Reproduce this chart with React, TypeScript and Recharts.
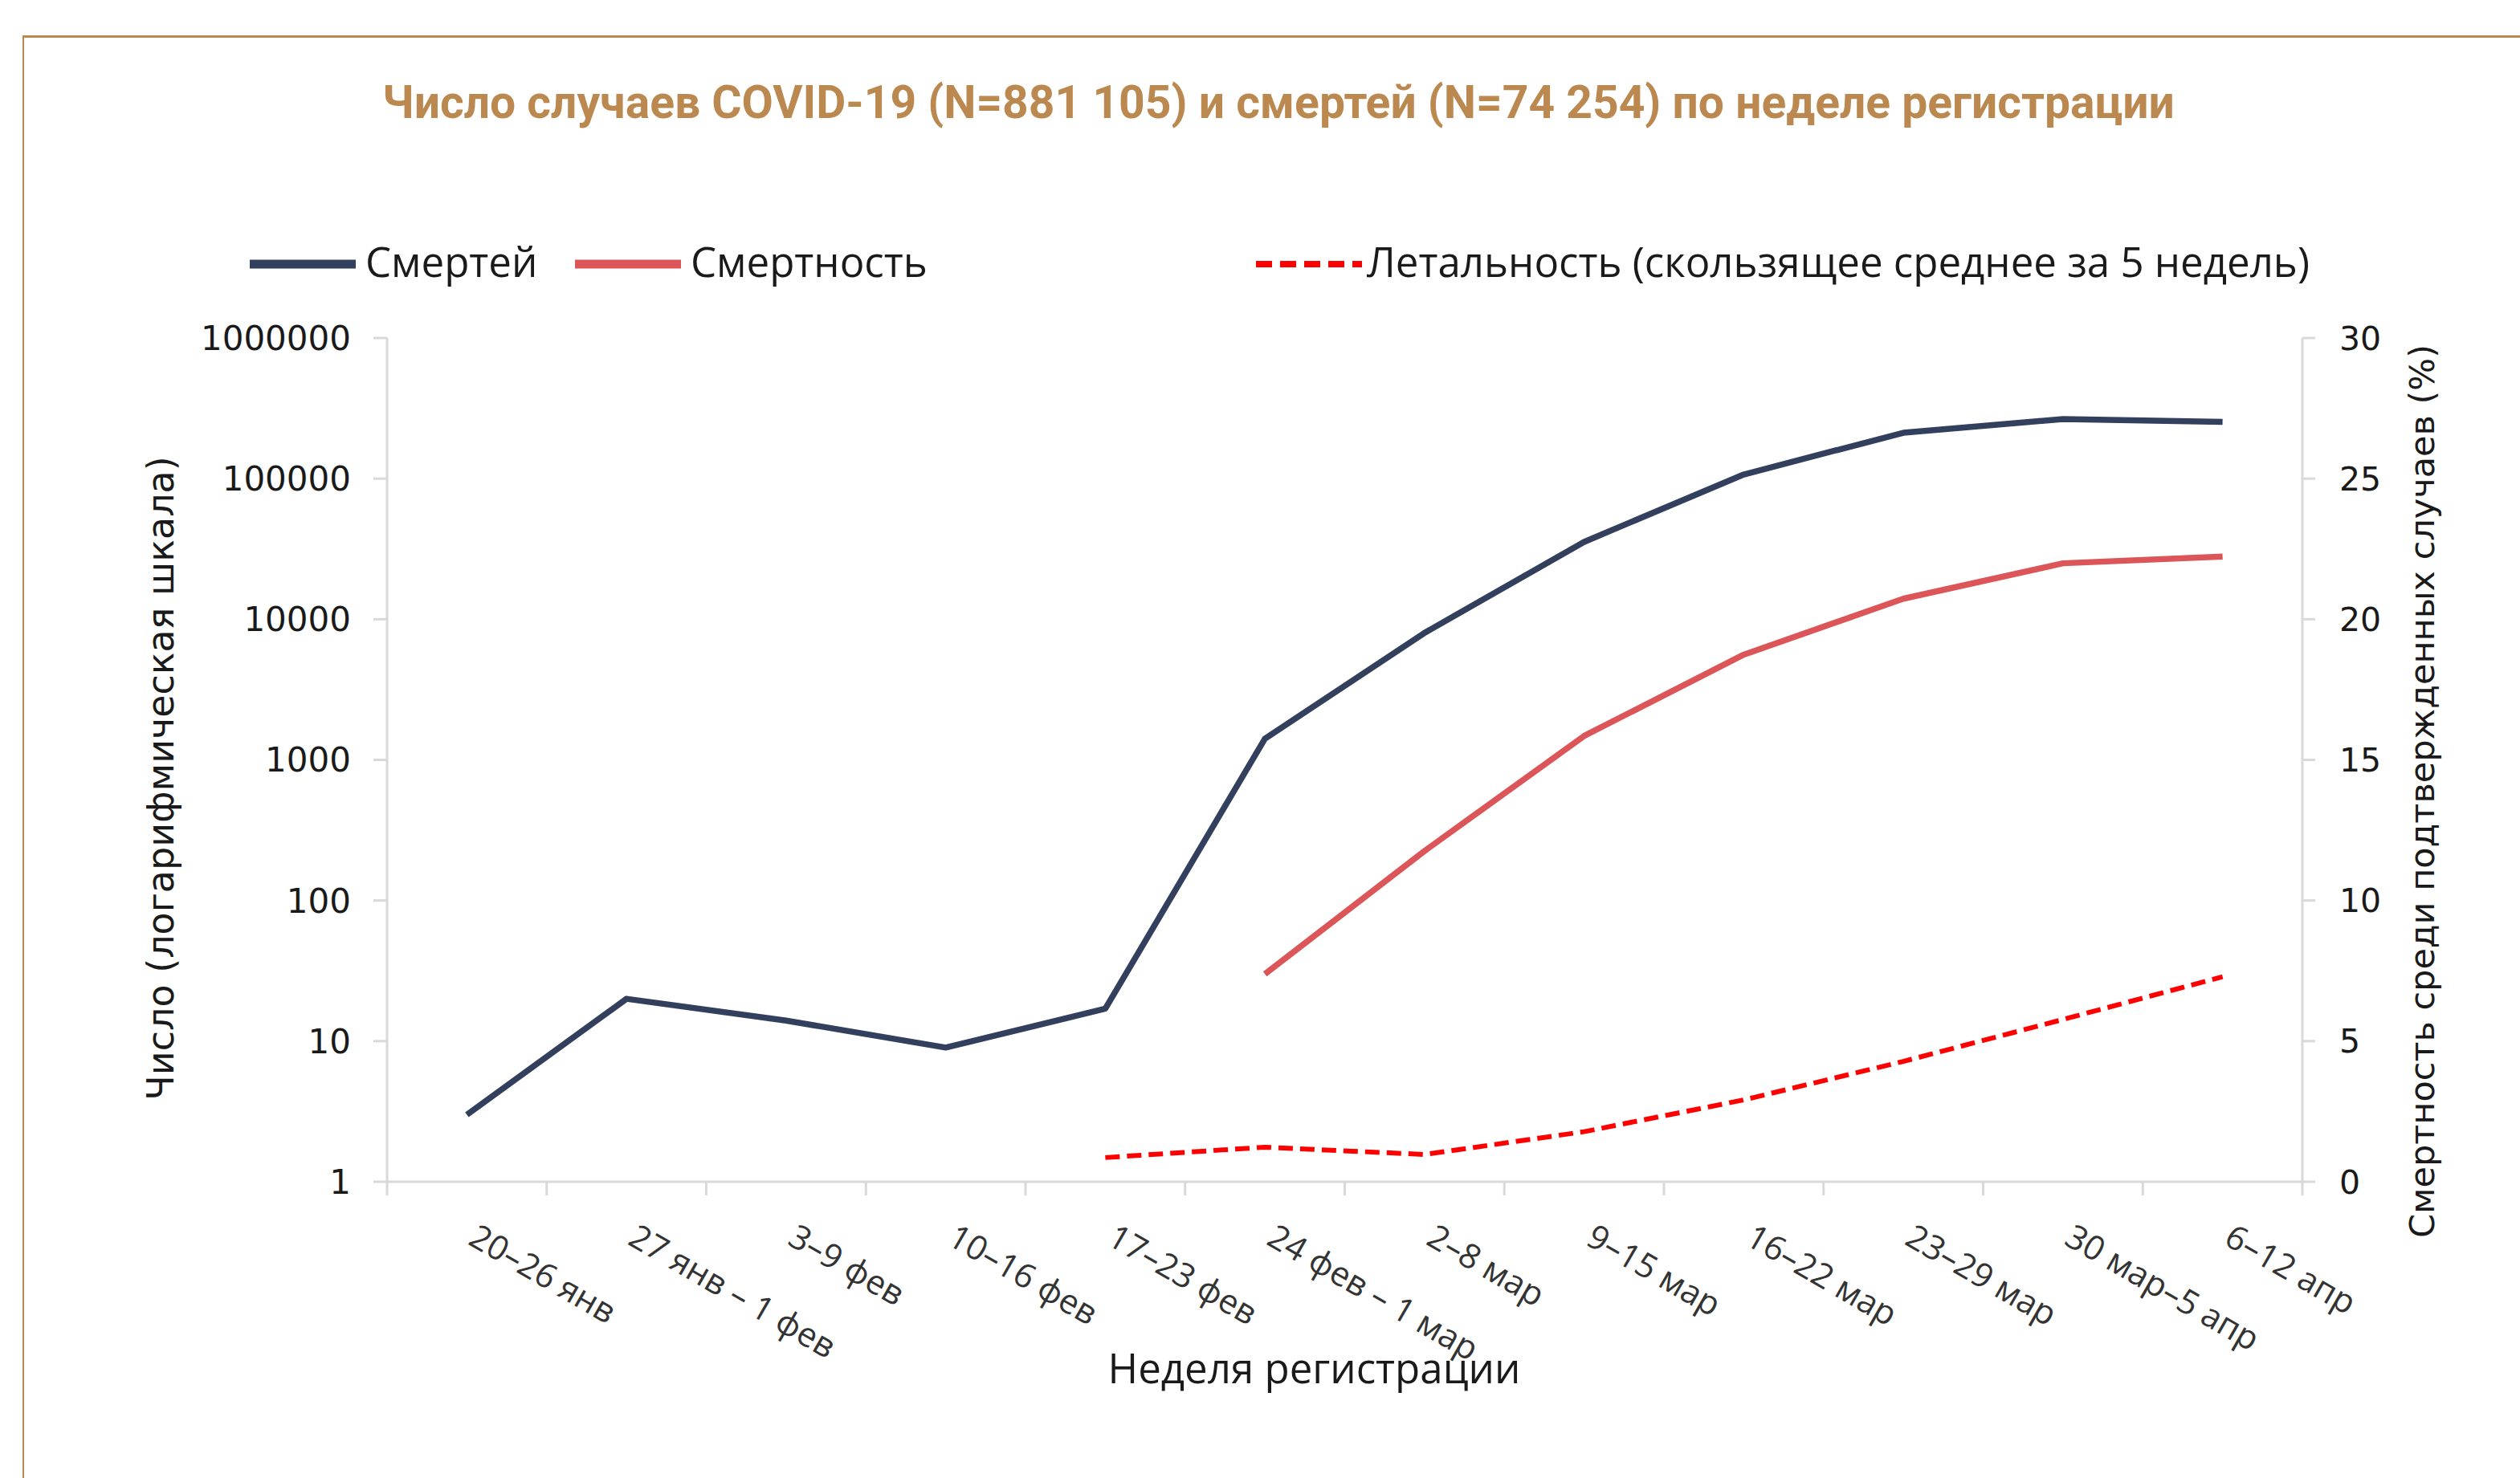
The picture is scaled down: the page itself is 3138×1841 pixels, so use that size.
import React from 'react';
import { LineChart, Line, XAxis, YAxis, Label } from 'recharts';

// ---------- data ----------
const weeks = [
  '20–26 янв', '27 янв – 1 фев', '3–9 фев', '10–16 фев', '17–23 фев', '24 фев – 1 мар',
  '2–8 мар', '9–15 мар', '16–22 мар', '23–29 мар', '30 мар–5 апр', '6–12 апр',
];
const casesSeries = [3, 20, 14, 9, 17, 1416, 8000, 35500, 107000, 212000, 265000, 253000];
const deathsSeries = [null, null, null, null, null, 30, 225, 1480, 5600, 14000, 25000, 27900];
const cfrSeries = [null, null, null, null, 0.86, 1.23, 0.97, 1.78, 2.91, 4.28, 5.77, 7.29];
const leftTicks = [1, 10, 100, 1000, 10000, 100000, 1000000];
const rightTicks = [0, 5, 10, 15, 20, 25, 30];
const seriesNames = ['Смертей', 'Смертность', 'Летальность (скользящее среднее за 5 недель)'];
const titleText = 'Число случаев COVID-19 (N=881 105) и смертей (N=74 254) по неделе регистрации';
const leftAxisTitle = 'Число (логарифмическая шкала)';
const rightAxisTitle = 'Смертность среди подтвержденных случаев (%)';
const xAxisTitle = 'Неделя регистрации';

const data = weeks.map((w, i) => ({
  week: w,
  cases: casesSeries[i],
  deaths: deathsSeries[i],
  cfr: cfrSeries[i],
}));

// ---------- layout / style ----------
const W = 3138;
const H = 1841;
const PLOT_LEFT = 482;
const PLOT_RIGHT = 2867;
const PLOT_TOP = 421;
const PLOT_BOTTOM = 1472;
const BAND = (PLOT_RIGHT - PLOT_LEFT) / weeks.length;

const NAVY = '#323F5D';
const RED = '#DC5558';
const DASH_RED = '#FF0000';
const AXIS_GREY = '#D9D9D9';
const GOLD = '#BB8950';
const NUM_FONT = '"DejaVu Sans", Verdana, sans-serif';
const UI_FONT = '"Open Sans", "Noto Sans", sans-serif';

const XTick = (props: any) => {
  const { x, y, payload, index } = props;
  const lx = x - BAND / 2;
  const ty = y + 77;
  return (
    <g>
      <line x1={lx} x2={lx} y1={y} y2={y + 17} stroke={AXIS_GREY} strokeWidth={3} />
      {index === weeks.length - 1 && (
        <line x1={x + BAND / 2} x2={x + BAND / 2} y1={y} y2={y + 17} stroke={AXIS_GREY} strokeWidth={3} />
      )}
      <text
        x={x}
        y={ty}
        transform={`rotate(30, ${x}, ${ty})`}
        textAnchor="start"
        fontFamily={UI_FONT}
        fontSize={42}
        fill="#333333"
      >
        {payload.value}
      </text>
    </g>
  );
};

const LeftTitle = (props: any) => {
  const vb = props.viewBox || { x: 0, y: PLOT_TOP, width: PLOT_LEFT, height: PLOT_BOTTOM - PLOT_TOP };
  const cx = vb.x + 200;
  const cy = vb.y + vb.height / 2 + 23;
  return (
    <text
      x={cx}
      y={cy}
      transform={`rotate(-90, ${cx}, ${cy})`}
      textAnchor="middle"
      dominantBaseline="central"
      fontFamily={NUM_FONT}
      fontSize={46}
      fill="#1a1a1a"
    >
      {leftAxisTitle}
    </text>
  );
};

const RightTitle = (props: any) => {
  const vb = props.viewBox || { x: PLOT_RIGHT, y: PLOT_TOP, width: W - PLOT_RIGHT, height: PLOT_BOTTOM - PLOT_TOP };
  const cx = vb.x + 149;
  const cy = vb.y + vb.height / 2 + 39;
  return (
    <text
      x={cx}
      y={cy}
      transform={`rotate(-90, ${cx}, ${cy})`}
      textAnchor="middle"
      dominantBaseline="central"
      fontFamily={NUM_FONT}
      fontSize={43}
      fill="#1a1a1a"
    >
      {rightAxisTitle}
    </text>
  );
};

const XTitle = (props: any) => {
  const vb = props.viewBox || { x: PLOT_LEFT, y: PLOT_BOTTOM, width: PLOT_RIGHT - PLOT_LEFT, height: 369 };
  const cx = vb.x + vb.width / 2 - 38;
  const cy = vb.y + 251;
  return (
    <text x={cx} y={cy} textAnchor="middle" fontFamily={UI_FONT} fontSize={51} fill="#1a1a1a">
      {xAxisTitle}
    </text>
  );
};

export default function App() {
  return (
    <div
      style={{
        position: 'absolute',
        left: 0,
        top: 0,
        width: W,
        height: H,
        overflow: 'hidden',
        background: '#ffffff',
      }}
    >
      {/* frame */}
      <div
        style={{
          position: 'absolute',
          left: 28,
          top: 44,
          width: W + 100,
          height: H + 100,
          borderTop: `3px solid ${GOLD}`,
          borderLeft: `2.5px solid ${GOLD}`,
          boxSizing: 'border-box',
        }}
      />
      <div style={{ position: 'absolute', left: 0, top: 0 }}>
        <LineChart width={W} height={H} data={data} margin={{ top: PLOT_TOP, right: 0, bottom: 0, left: 0 }}>
          <XAxis
            dataKey="week"
            xAxisId="x"
            height={H - PLOT_BOTTOM}
            interval={0}
            padding={{ left: BAND / 2, right: BAND / 2 }}
            tickSize={0}
            tickMargin={0}
            tickLine={false}
            axisLine={{ stroke: AXIS_GREY, strokeWidth: 3 }}
            tick={<XTick />}
          >
            <Label content={<XTitle />} />
          </XAxis>
          <YAxis
            yAxisId="left"
            type="number"
            scale="log"
            domain={[1, 1000000]}
            ticks={leftTicks}
            interval={0}
            allowDataOverflow
            width={PLOT_LEFT}
            tickSize={17}
            tickMargin={28}
            axisLine={{ stroke: AXIS_GREY, strokeWidth: 3 }}
            tickLine={{ stroke: AXIS_GREY, strokeWidth: 3 }}
            tick={{ fill: '#1a1a1a', fontSize: 42, fontFamily: NUM_FONT }}
          >
            <Label content={<LeftTitle />} />
          </YAxis>
          <YAxis
            yAxisId="right"
            orientation="right"
            type="number"
            domain={[0, 30]}
            ticks={rightTicks}
            interval={0}
            width={W - PLOT_RIGHT}
            tickSize={16}
            tickMargin={30}
            axisLine={{ stroke: AXIS_GREY, strokeWidth: 3 }}
            tickLine={{ stroke: AXIS_GREY, strokeWidth: 3 }}
            tick={{ fill: '#1a1a1a', fontSize: 41, fontFamily: NUM_FONT, textAnchor: 'start' }}
          >
            <Label content={<RightTitle />} />
          </YAxis>
          <Line
            xAxisId="x"
            yAxisId="left"
            dataKey="cases"
            name={seriesNames[0]}
            stroke={NAVY}
            strokeWidth={7.5}
            dot={false}
            activeDot={false}
            isAnimationActive={false}
            strokeLinejoin="round"
          />
          <Line
            xAxisId="x"
            yAxisId="left"
            dataKey="deaths"
            name={seriesNames[1]}
            stroke={RED}
            strokeWidth={7.5}
            dot={false}
            activeDot={false}
            isAnimationActive={false}
            strokeLinejoin="round"
          />
          <Line
            xAxisId="x"
            yAxisId="right"
            dataKey="cfr"
            name={seriesNames[2]}
            stroke={DASH_RED}
            strokeWidth={6}
            strokeDasharray="18 9"
            dot={false}
            activeDot={false}
            isAnimationActive={false}
          />
        </LineChart>
      </div>
      {/* title and legend */}
      <svg
        width={W}
        height={H}
        style={{ position: 'absolute', left: 0, top: 0, pointerEvents: 'none' }}
      >
        <text
          x={1592}
          y={147}
          textAnchor="middle"
          fontFamily="Roboto, sans-serif"
          fontWeight={700}
          fontSize={57}
          fill={GOLD}
        >
          {titleText}
        </text>
        <line x1={311} x2={443} y1={329} y2={329} stroke={NAVY} strokeWidth={11} />
        <text x={455} y={345} fontFamily={UI_FONT} fontSize={51} fill="#1a1a1a">
          {seriesNames[0]}
        </text>
        <line x1={716} x2={848} y1={329} y2={329} stroke={RED} strokeWidth={11} />
        <text x={860} y={345} fontFamily={UI_FONT} fontSize={51} fill="#1a1a1a">
          {seriesNames[1]}
        </text>
        <line
          x1={1564}
          x2={1696}
          y1={329}
          y2={329}
          stroke={DASH_RED}
          strokeWidth={8}
          strokeDasharray="20 10"
        />
        <text x={1702} y={345} fontFamily={UI_FONT} fontSize={51} fill="#1a1a1a">
          {seriesNames[2]}
        </text>
      </svg>
    </div>
  );
}
